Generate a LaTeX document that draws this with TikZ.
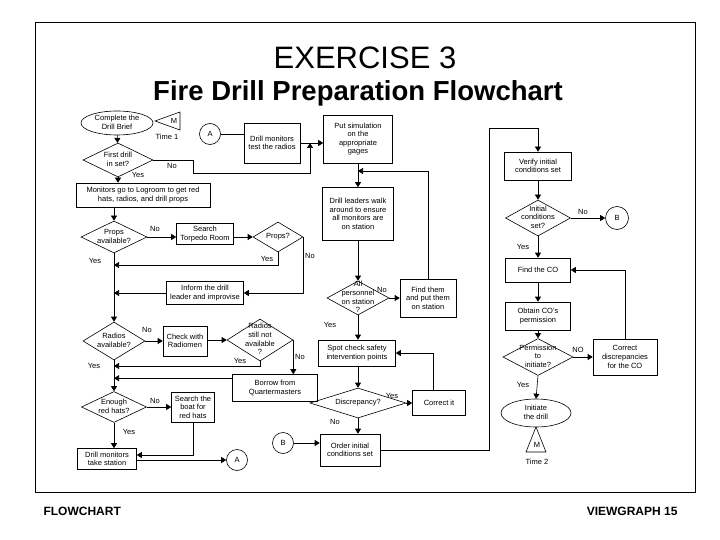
\documentclass[tikz,border=0pt]{standalone}
\usepackage{fontspec}
\setmainfont{Liberation Sans}
\usetikzlibrary{shapes.geometric,arrows.meta}
\newcommand{\petit}{\fontsize{7.5}{8.6}\selectfont}
% texte centre sans encombrement (losanges, bulles)
\newcommand{\dtxt}[1]{\makebox[0pt]{\smash{\lower.25em\hbox{\begin{tabular}[c]{@{}c@{}}#1\end{tabular}}}}}
\begin{document}
\begin{tikzpicture}[x=1pt, y=-1pt, >={Triangle[length=5pt,width=6pt]},
    boite/.style={draw, line width=0.6pt, align=center, inner sep=1pt, font=\petit},
    losange/.style={draw, diamond, line width=0.6pt, inner sep=0pt, font=\petit},
    bulle/.style={draw, ellipse, line width=0.6pt, inner sep=0pt, font=\petit},
    renvoi/.style={draw, circle, line width=0.6pt, minimum size=21pt, inner sep=0pt, font=\petit},
    etiq/.style={font=\petit, inner sep=0pt},
    lien/.style={line width=0.6pt, ->}]
    \useasboundingbox (0,0) rectangle (720,540);

    % ==============================================================
    % 1. CADRE ET TITRES
    % ==============================================================
    \draw[line width=0.8pt] (35,22) rectangle (695,492);
    \node[font=\fontsize{31}{31}\selectfont] (titre) at (365,58) {EXERCISE 3};
    \node[font=\bfseries\fontsize{27.5}{28}\selectfont] (soustitre) at (358,93) {Fire Drill Preparation Flowchart};
    \node[anchor=west, font=\bfseries\fontsize{12}{12}\selectfont] (pied1) at (40,511) {FLOWCHART};
    \node[anchor=east, font=\bfseries\fontsize{12}{12}\selectfont] (pied2) at (681,511) {VIEWGRAPH 15};

    % ==============================================================
    % 2. COLONNE DE GAUCHE
    % ==============================================================
    \node[bulle, minimum width=72pt, minimum height=24pt] (brief) at (117,123) {\dtxt{Complete the\\Drill Brief}};
    \draw[line width=0.6pt] (155,121) -- (180,112) -- (180,130) -- cycle;
    \node[etiq] (m1) at (174,121) {M};
    \node[etiq] (temps1) at (167,137) {Time 1};

    \node[losange, minimum width=70pt, minimum height=34pt] (drill1) at (118,160) {\dtxt{First drill\\in set?}};
    \node[boite, minimum width=134pt, minimum height=24pt] (logroom) at (143,195) {Monitors go to Logroom to get red\\hats, radios, and drill props};
    \node[losange, minimum width=66pt, minimum height=32pt] (props) at (114,237) {\dtxt{Props\\available?}};
    \node[boite, minimum width=57pt, minimum height=21pt] (torpedo) at (205,234) {Search\\Torpedo Room};
    \node[losange, minimum width=50pt, minimum height=30pt] (props2) at (278,237) {\dtxt{Props?}};
    \node[boite, minimum width=77pt, minimum height=23pt] (inform) at (205,293) {Inform the drill\\leader and improvise};
    \node[losange, minimum width=62pt, minimum height=38pt] (radios) at (114,341) {\dtxt{Radios\\available?}};
    \node[boite, minimum width=44pt, minimum height=30pt] (radiomen) at (185,341) {Check with\\Radiomen};
    \node[losange, minimum width=66pt, minimum height=42pt] (radios2) at (260,340) {\dtxt{Radios\\still not\\available\\?}};
    \node[boite, minimum width=85pt, minimum height=27pt] (borrow) at (275,388) {Borrow from\\Quartermasters};
    \node[losange, minimum width=65pt, minimum height=31pt] (hats) at (114,407) {\dtxt{Enough\\red hats?}};
    \node[boite, minimum width=43pt, minimum height=30pt] (boat) at (193,407) {Search the\\boat for\\red hats};
    \node[boite, minimum width=59pt, minimum height=21pt] (take) at (107,459) {Drill monitors\\take station};
    \node[renvoi] (a2) at (237,460) {A};

    % ==============================================================
    % 3. COLONNE DU MILIEU
    % ==============================================================
    \node[renvoi] (a1) at (210,134) {A};
    \node[boite, minimum width=56pt, minimum height=40pt] (test) at (272,143) {Drill monitors\\test the radios};
    \node[boite, minimum width=69pt, minimum height=48pt] (gages) at (358,139) {Put simulation\\on the\\appropriate\\gages};
    \node[boite, minimum width=71pt, minimum height=53pt] (walk) at (358,214) {Drill leaders walk\\around to ensure\\all monitors are\\on station};
    \node[losange, minimum width=62pt, minimum height=34pt] (personnel) at (358,298) {\dtxt{All\\personnel\\on station\\?}};
    \node[boite, minimum width=56pt, minimum height=38pt] (findthem) at (428,298) {Find them\\and put them\\on station};
    \node[boite, minimum width=77pt, minimum height=26pt] (spot) at (357,353) {Spot check safety\\intervention points};
    \node[losange, minimum width=96pt, minimum height=30pt] (discrep) at (358,403) {\dtxt{Discrepancy?}};
    \node[boite, minimum width=53pt, minimum height=25pt] (correctit) at (439,403) {Correct it};
    \node[boite, minimum width=60pt, minimum height=32pt] (order) at (350,450) {Order initial\\conditions set};
    \node[renvoi] (b2) at (283,443) {B};

    % ==============================================================
    % 4. COLONNE DE DROITE
    % ==============================================================
    \node[boite, minimum width=67pt, minimum height=28pt] (verify) at (538,166) {Verify initial\\conditions set};
    \node[losange, minimum width=65pt, minimum height=36pt] (initial) at (538,218) {\dtxt{Initial\\conditions\\set?}};
    \node[renvoi, minimum size=23pt] (b1) at (617,218) {B};
    \node[boite, minimum width=65pt, minimum height=24pt] (findco) at (538,270) {Find the CO};
    \node[boite, minimum width=65pt, minimum height=28pt] (obtain) at (538,316) {Obtain CO's\\permission};
    \node[losange, minimum width=70pt, minimum height=37pt] (perm) at (538,357) {\dtxt{Permission\\to\\initiate?}};
    \node[boite, minimum width=64pt, minimum height=36pt] (correctco) at (625,357) {Correct\\discrepancies\\for the CO};
    \node[bulle, minimum width=70pt, minimum height=28pt] (initiate) at (536,413) {\dtxt{Initiate\\the drill}};
    \draw[line width=0.6pt] (536,427) -- (546,452) -- (526,452) -- cycle;
    \node[etiq] (m2) at (537,445) {M};
    \node[etiq] (temps2) at (537,462) {Time 2};

    % ==============================================================
    % 5. LIAISONS
    % ==============================================================
    \coordinate (jn1) at (310,143);
    \coordinate (jn2) at (358,171);
    \coordinate (oui1) at (114,265);
    \coordinate (oui2) at (114,366);
    \coordinate (qm) at ([yshift=-4pt]borrow.north west);

    \draw[lien] (brief) -- (drill1);
    \draw[lien] (drill1.east) -- (193,160) -- (193,173) -- (310,173) -- (jn1);
    \draw[line width=0.6pt] (a1.east) -- (a1.east -| test.west);
    \draw[lien] (test.east) -- (test.east -| gages.west);
    \draw[lien] (drill1.south) -- (drill1.south |- logroom.north);
    \draw[lien] (props.north |- logroom.south) -- (props.north);
    \draw[lien] (props.east) -- (props.east -| torpedo.west);
    \draw[lien] (torpedo.east |- props2.west) -- (props2.west);
    \draw[lien] (props2.south) |- (oui1);
    \draw[lien] (props2.east) |- (inform.east);
    \draw[lien] (inform.west) -- (inform.west -| props.south);
    \draw[lien] (props.south) -- (radios.north);
    \draw[lien] (radios.east) -- (radios.east -| radiomen.west);
    \draw[lien] (radiomen.east |- radios2.west) -- (radios2.west);
    \draw[lien] (radios2.south) |- (oui2);
    \draw[lien] (radios2.east) -- (radios2.east |- borrow.north);
    \draw[lien] (qm) -- (qm -| radios.south);
    \draw[lien] (radios.south) -- (hats.north);
    \draw[lien] (hats.east) -- (boat.west);
    \draw[lien] (boat.south) |- ([yshift=4pt]take.east);
    \draw[lien] (hats.south) -- (hats.south |- take.north);
    \draw[lien] (take.east |- a2.west) -- (a2.west);

    \draw[lien] (gages.south) -- (walk.north);
    \draw[lien] (findthem.north) |- (jn2);
    \draw[lien] (walk.south) -- (personnel.north);
    \draw[lien] (personnel.east) -- (findthem.west);
    \draw[lien] (personnel.south) -- (personnel.south |- spot.north);
    \draw[lien] (discrep.north |- spot.south) -- (discrep.north);
    \draw[lien] (discrep.east) -- (correctit.west);
    \draw[lien] ([xshift=-6pt]correctit.north) |- (spot.east);
    \draw[lien] (discrep.south) -- (discrep.south |- order.north);
    \draw[lien] (b2.east) -- (b2.east -| order.west);
    \draw[lien] (order.east) -| (489,128) -| (verify.north);

    \draw[lien] (verify.south) -- (initial.north);
    \draw[lien] (initial.east) -- (b1.west);
    \draw[lien] (initial.south) -- (findco.north);
    \draw[lien] (findco.south) -- (obtain.north);
    \draw[lien] (obtain.south) -- (perm.north);
    \draw[lien] (perm.east) -- (correctco.west);
    \draw[lien] (correctco.north) |- (findco.east);
    \draw[lien] (perm.south) -- (initiate.north);

    % ==============================================================
    % 6. ETIQUETTES OUI / NON
    % ==============================================================
    \node[etiq] (n1) at (172,166) {No};
    \node[etiq] (y1) at (138,175) {Yes};
    \node[etiq] (n2) at (155,229) {No};
    \node[etiq] (y2) at (95,261) {Yes};
    \node[etiq] (y3) at (267,259) {Yes};
    \node[etiq] (n3) at (310,256) {No};
    \node[etiq] (n4) at (147,330) {No};
    \node[etiq] (y4) at (240,361) {Yes};
    \node[etiq] (y5) at (94,366) {Yes};
    \node[etiq] (n5) at (300,357) {No};
    \node[etiq] (n6) at (155,401) {No};
    \node[etiq] (y6) at (129,432) {Yes};
    \node[etiq] (n7) at (382,290) {No};
    \node[etiq] (y7) at (330,325) {Yes};
    \node[etiq] (y8) at (392,396) {Yes};
    \node[etiq] (n8) at (335,422) {No};
    \node[etiq] (n9) at (583,212) {No};
    \node[etiq] (y9) at (523,247) {Yes};
    \node[etiq] (n10) at (578,350) {NO};
    \node[etiq] (y10) at (523,385) {Yes};
\end{tikzpicture}
\end{document}
